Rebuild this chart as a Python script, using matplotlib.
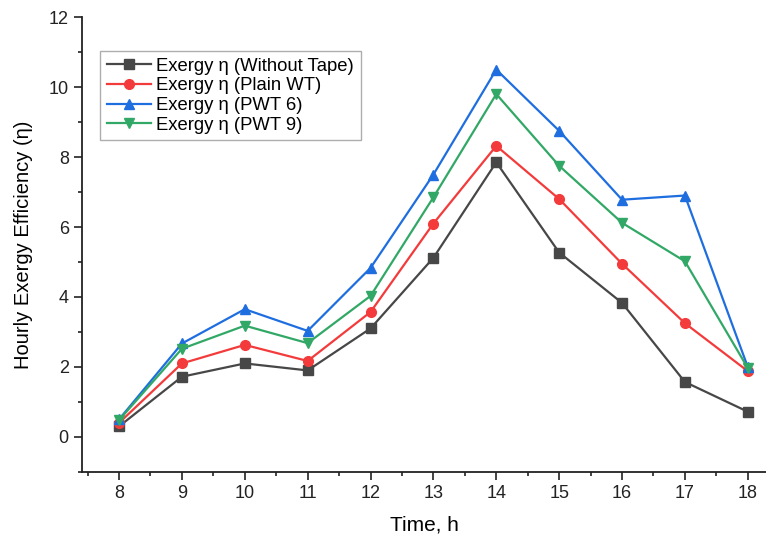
import numpy as np
from matplotlib import pyplot as plt
from matplotlib.ticker import MultipleLocator

plt.rcParams['font.family'] = ['Liberation Sans', 'DejaVu Sans']

# Hourly exergy efficiency for each tape configuration
hours = [8, 9, 10, 11, 12, 13, 14, 15, 16, 17, 18]
without_tape = [0.30, 1.72, 2.10, 1.90, 3.10, 5.12, 7.85, 5.27, 3.83, 1.57, 0.72]
plain_wt = [0.40, 2.10, 2.63, 2.17, 3.57, 6.10, 8.32, 6.80, 4.95, 3.25, 1.88]
pwt6 = [0.50, 2.67, 3.65, 3.03, 4.83, 7.50, 10.50, 8.75, 6.78, 6.90, 2.00]
pwt9 = [0.48, 2.52, 3.18, 2.68, 4.03, 6.85, 9.80, 7.75, 6.12, 5.02, 1.97]

series = [
    ('Exergy η (Without Tape)', without_tape, '#474747', 's'),
    ('Exergy η (Plain WT)', plain_wt, '#f43b3b', 'o'),
    ('Exergy η (PWT 6)', pwt6, '#1f6ee0', '^'),
    ('Exergy η (PWT 9)', pwt9, '#32a866', 'v'),
]

fig = plt.figure(figsize=(7.66, 5.35), dpi=100)
ax = fig.add_axes([0.107, 0.118, 0.893, 0.850])

for label, vals, col, mk in series:
    ax.plot(hours, vals, color=col, marker=mk, markersize=7, linewidth=1.6, label=label)

ax.set_xlim(7.41, 18.29)
ax.set_ylim(-1, 12)
ax.xaxis.set_major_locator(MultipleLocator(1))
ax.xaxis.set_minor_locator(MultipleLocator(0.5))
ax.yaxis.set_major_locator(MultipleLocator(2))
ax.yaxis.set_minor_locator(MultipleLocator(1))
ax.spines['top'].set_visible(False)
ax.spines['right'].set_visible(False)
for s in ('left', 'bottom'):
    ax.spines[s].set_linewidth(1.3)
    ax.spines[s].set_color('#222222')
ax.tick_params(which='major', direction='out', length=6, width=1.2, labelsize=13, colors='#222222')
ax.tick_params(which='minor', direction='out', length=3, width=1.2, colors='#222222')

ax.set_xlabel('Time, h', fontsize=15, labelpad=10)
ax.set_ylabel('Hourly Exergy Efficiency (η)', fontsize=14.5, labelpad=11)

leg = ax.legend(loc='upper left', bbox_to_anchor=(0.013, 0.945), fontsize=13.3,
                frameon=True, fancybox=False, edgecolor='#999999',
                handlelength=2.4, borderpad=0.35, labelspacing=0.14, handletextpad=0.3)
leg.get_frame().set_linewidth(1.0)

plt.savefig('out.png', dpi=100)
